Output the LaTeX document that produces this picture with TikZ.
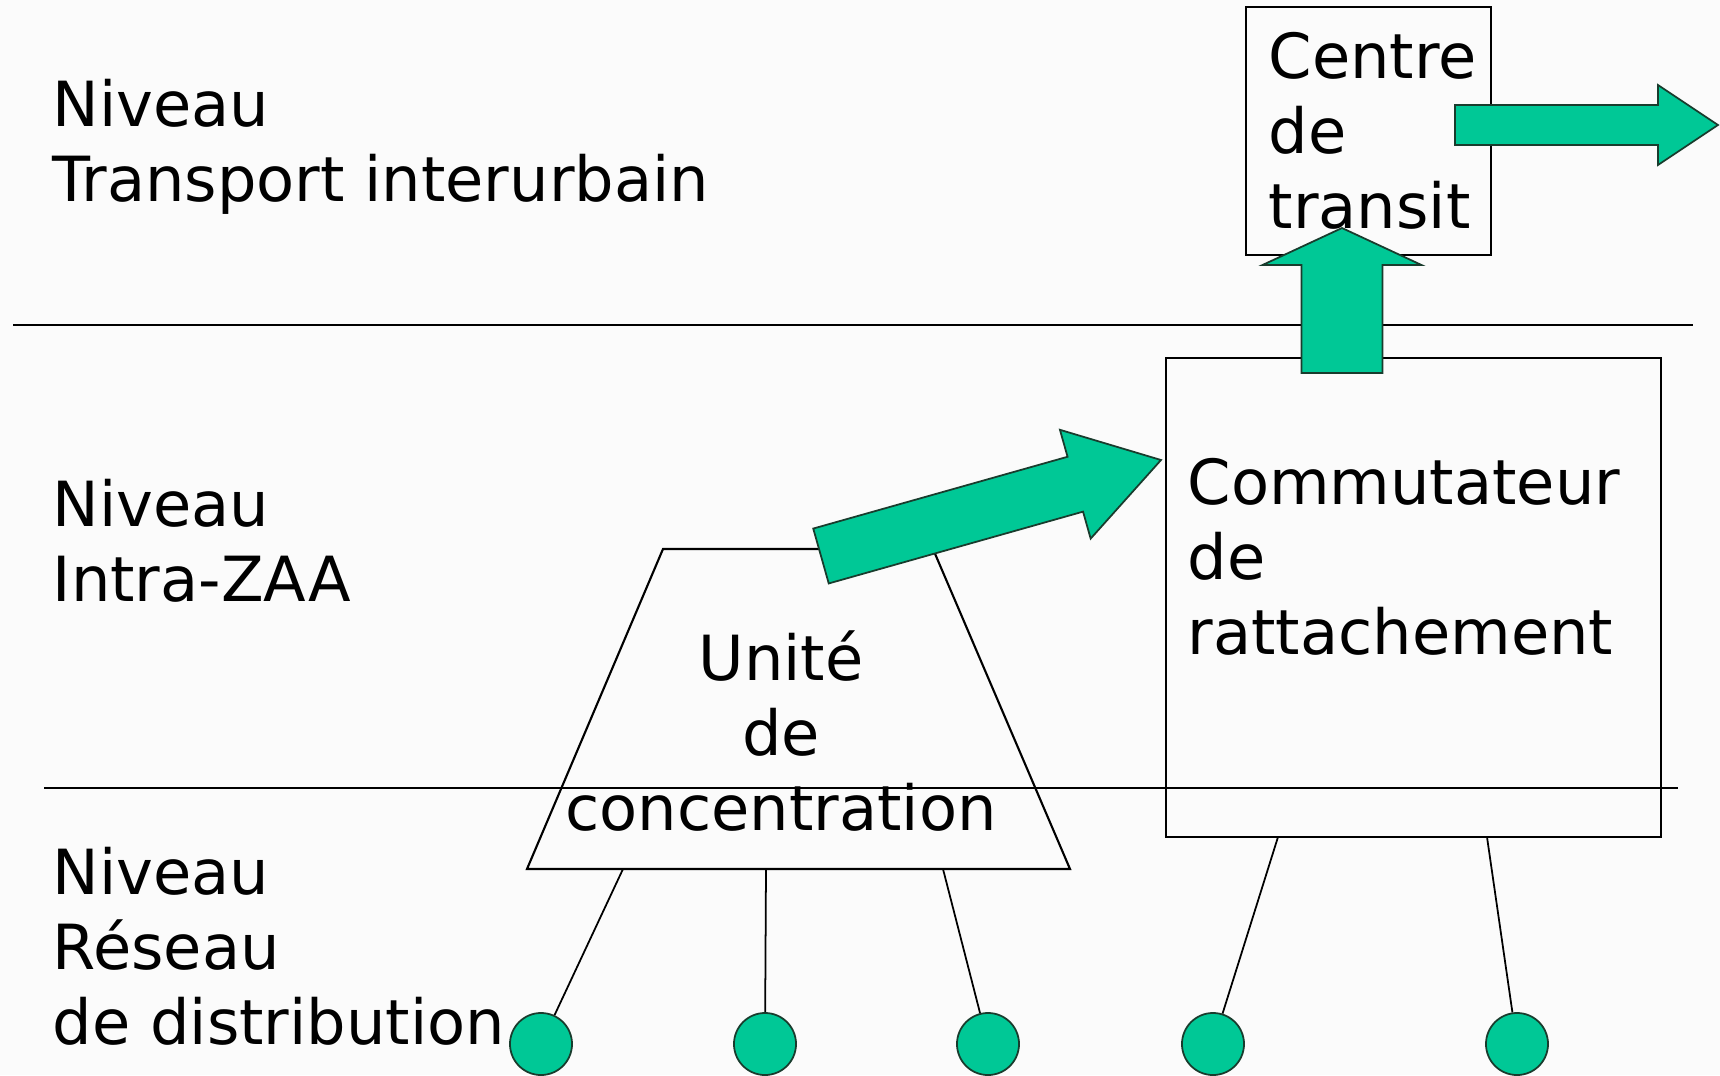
\documentclass[tikz,border=0pt]{standalone}
\usepackage{fontspec}
\setmainfont{DejaVu Sans}
\usetikzlibrary{calc}

\definecolor{paper}{RGB}{251,251,251}
\definecolor{sea}{RGB}{0,200,150}
\definecolor{seaedge}{RGB}{25,60,45}

% block arrow: name, tail, tip, half shaft, half head, head length
\newcommand\blockarrow[6]{%
  \coordinate (#1-h) at ($(#3)!#6!(#2)$);
  \filldraw[block] ($(#2)!#4!90:(#3)$) -- ($(#1-h)!#4!-90:(#2)$) -- ($(#1-h)!#5!-90:(#2)$) -- (#3)
    -- ($(#1-h)!#5!90:(#2)$) -- ($(#1-h)!#4!90:(#2)$) -- ($(#2)!#4!-90:(#3)$) -- cycle;}

\begin{document}
\begin{tikzpicture}[x=0.01cm, y=-0.01cm,
    txt/.style={font=\fontsize{17.7}{21.3}\selectfont, inner sep=0pt, align=left},
    box/.style={draw, line width=0.6pt, inner sep=0pt},
    sep/.style={line width=0.6pt},
    wire/.style={line width=0.5pt},
    block/.style={fill=sea, draw=seaedge, line width=0.5pt},
    term/.style={circle, fill=sea, draw=seaedge, line width=0.5pt, minimum size=0.62cm, inner sep=0pt}]
    \fill[paper] (0,0) rectangle (1720,1075);
    \useasboundingbox (0,0) rectangle (1720,1075);

    % niveaux (base = last line)
    \draw[sep] (13,325) -- (1693,325);
    \draw[sep] (44,788) -- (1678,788);
    \node[txt, anchor=base west] (nt) at (52,201) {Niveau\\Transport interurbain};
    \node[txt, anchor=base west] (nz) at (52,601) {Niveau\\Intra-ZAA};
    \node[txt, anchor=base west] (nd) at (52,1044) {Niveau\\Réseau\\de distribution};

    % centre de transit
    \node[box, minimum width=2.45cm, minimum height=2.48cm] (ct) at (1368.5,131) {};
    \node[txt, anchor=base west] (ctl) at (1268,228) {Centre\\de\\transit};

    % commutateur de rattachement
    \node[box, minimum width=4.95cm, minimum height=4.79cm] (cr) at (1413.5,597.5) {};
    \node[txt, anchor=base west] (crl) at (1187,654) {Commutateur\\de\\rattachement};

    % unite de concentration
    \coordinate (uc1) at (663,549); \coordinate (uc2) at (933,549);
    \coordinate (uc3) at (1070,869); \coordinate (uc4) at (527,869);
    \draw[sep] (uc1) -- (uc2) -- (uc3) -- (uc4) -- cycle;
    \node[txt, align=center, anchor=base] (ucl) at (781,830) {Unité\\de\\concentration};

    % abonnes
    \foreach \n/\x in {1/541, 2/765, 3/988, 4/1213, 5/1517}
        \node[term] (c\n) at (\x,1044) {};
    \coordinate (w1) at (623,869); \coordinate (w2) at (766,869); \coordinate (w3) at (943,869);
    \coordinate (w4) at (1278,837); \coordinate (w5) at (1487,837);
    \foreach \n in {1,...,5}
        \draw[wire] (w\n) -- (c\n);

    % fleches
    \coordinate (a1) at (821,556); \coordinate (a2) at (1161,460);
    \blockarrow{ar1}{a1}{a2}{0.285cm}{0.565cm}{0.89cm}
    \coordinate (b1) at (1342,373); \coordinate (b2) at (1342,228);
    \blockarrow{ar2}{b1}{b2}{0.405cm}{0.795cm}{0.37cm}
    \coordinate (d1) at (1455,125); \coordinate (d2) at (1718,125);
    \blockarrow{ar3}{d1}{d2}{0.2cm}{0.4cm}{0.6cm}
\end{tikzpicture}
\end{document}
